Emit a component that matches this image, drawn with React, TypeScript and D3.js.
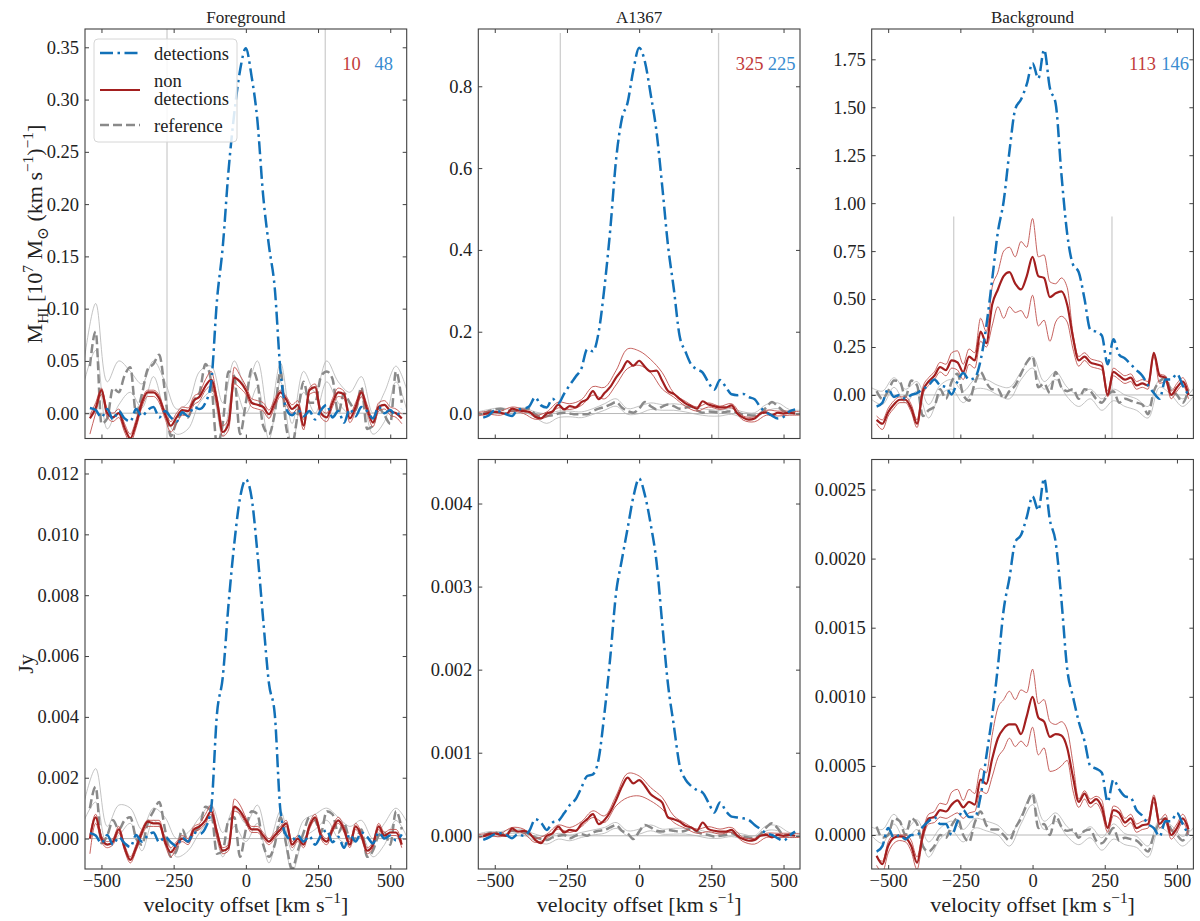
import React, { useEffect, useRef } from 'react';
import * as d3 from 'd3';

// velocity grids (km/s)
const vel = [-540, -520, -500, -480, -460, -440, -420, -400, -380, -360, -340, -320, -300, -280, -260, -240, -220, -200, -180, -160, -140, -120, -100, -80, -60, -40, -20, 0, 20, 40, 60, 80, 100, 120, 140, 160, 180, 200, 220, 240, 260, 280, 300, 320, 340, 360, 380, 400, 420, 440, 460, 480, 500, 520, 540];
const velBand = [-560, -520, -480, -440, -400, -360, -320, -280, -240, -200, -160, -120, -80, -40, 0, 40, 80, 120, 160, 200, 240, 280, 320, 360, 400, 440, 480, 520, 560];

const xTicks = [-500, -250, 0, 250, 500];
const edgeLines = [-273, 275];

// ---------- Foreground, M_HI ----------
const fgMDet = [0.005, 0.003, -0.004, 0.004, -0.006, 0.002, -0.005, -0.008, 0.004, -0.003, 0.003, 0.006, -0.004, 0.002, -0.004, -0.008, 0.001, -0.003, 0.006, 0.004, 0.01, 0.03, 0.108, 0.159, 0.232, 0.287, 0.328, 0.349, 0.322, 0.28, 0.208, 0.16, 0.12, 0.04, 0.004, -0.002, 0.003, -0.003, 0.002, -0.006, 0.003, 0.008, -0.004, 0.002, -0.009, 0.004, -0.003, 0.006, 0.002, -0.005, 0.006, 0.0, 0.003, -0.002, 0.004];
const fgMNon = [-0.005, 0.005, 0.022, 0.0, -0.004, 0.0, -0.014, -0.024, -0.01, 0.01, 0.02, 0.02, 0.014, -0.001, -0.012, -0.004, 0.003, 0.002, 0.012, 0.016, 0.026, 0.032, 0.012, -0.018, -0.01, 0.034, 0.03, 0.022, 0.01, 0.008, 0.006, -0.001, 0.01, 0.02, 0.013, 0.004, 0.008, -0.012, 0.022, 0.025, 0.0, -0.004, 0.01, 0.02, 0.018, -0.005, 0.006, 0.02, 0.004, -0.009, 0.006, 0.008, 0.002, 0.0, -0.005];
const fgMRef = [0.045, 0.078, -0.01, -0.005, 0.024, 0.02, 0.036, 0.044, 0.0, 0.018, 0.042, 0.047, 0.056, 0.02, -0.022, -0.008, 0.0, -0.004, 0.012, 0.02, 0.047, 0.03, -0.03, -0.01, 0.04, 0.035, -0.02, 0.01, 0.042, 0.03, -0.012, -0.02, 0.0, 0.04, -0.014, -0.03, 0.0, 0.03, 0.01, 0.01, 0.035, 0.04, 0.033, 0.0, 0.019, 0.01, 0.003, 0.025, -0.015, -0.012, 0.005, -0.002, -0.01, 0.04, 0.01];
const fgMNonHi = [-0.002, 0.01, 0.024, 0.004, 0.0, 0.004, -0.01, -0.02, -0.006, 0.013, 0.022, 0.022, 0.017, 0.002, -0.008, 0.0, 0.006, 0.005, 0.016, 0.02, 0.032, 0.04, 0.016, -0.012, -0.005, 0.044, 0.036, 0.026, 0.014, 0.012, 0.01, 0.003, 0.014, 0.022, 0.016, 0.008, 0.012, -0.006, 0.024, 0.028, 0.004, 0.0, 0.014, 0.024, 0.021, -0.001, 0.01, 0.022, 0.008, -0.005, 0.01, 0.012, 0.006, 0.004, -0.001];
const fgMNonLo = [-0.02, 0.0, 0.018, -0.004, -0.008, -0.004, -0.018, -0.028, -0.014, 0.006, 0.016, 0.016, 0.01, -0.005, -0.018, -0.01, -0.002, -0.002, 0.008, 0.012, 0.022, 0.026, 0.006, -0.022, -0.016, 0.028, 0.024, 0.018, 0.006, 0.004, 0.002, -0.005, 0.006, 0.016, 0.008, 0.0, 0.004, -0.016, 0.018, 0.02, -0.004, -0.008, 0.006, 0.016, 0.014, -0.009, 0.002, 0.016, 0.0, -0.013, 0.002, 0.004, -0.002, -0.004, -0.01];
const fgMRefHi = [0.05, 0.105, 0.03, 0.05, 0.04, 0.028, 0.05, 0.03, 0.004, 0.01, 0.04, 0.045, 0.01, 0.05, 0.025, 0.05, -0.005, 0.048, -0.01, 0.04, 0.02, 0.05, 0.03, 0.02, 0.035, 0.0, 0.02, 0.045, 0.02];
const fgMRefLo = [0.03, 0.06, -0.015, 0.008, 0.02, 0.005, 0.035, 0.0, -0.02, -0.015, 0.01, 0.02, -0.022, 0.025, 0.0, 0.025, -0.025, 0.03, -0.03, 0.02, 0.0, 0.03, 0.01, 0.0, 0.015, -0.02, -0.008, 0.03, 0.0];
const fgMTicks = [0, 0.05, 0.1, 0.15, 0.2, 0.25, 0.3, 0.35];

// ---------- A1367, M_HI ----------
const clMDet = [-0.01, -0.004, 0.008, 0.004, -0.002, -0.006, 0.01, 0.012, 0.018, 0.04, 0.02, 0.015, 0.036, 0.025, 0.048, 0.07, 0.09, 0.11, 0.157, 0.152, 0.2, 0.31, 0.45, 0.62, 0.72, 0.76, 0.84, 0.894, 0.86, 0.78, 0.69, 0.555, 0.41, 0.305, 0.19, 0.152, 0.12, 0.108, 0.1, 0.076, 0.058, 0.082, 0.065, 0.047, 0.045, 0.048, 0.04, 0.035, 0.015, 0.003, -0.005, -0.012, -0.008, 0.005, 0.01];
const clMNon = [-0.002, 0.002, 0.004, 0.002, -0.001, 0.012, 0.008, 0.006, 0.004, -0.008, -0.012, 0.0, 0.005, 0.022, 0.01, 0.018, 0.015, 0.028, 0.035, 0.055, 0.035, 0.05, 0.065, 0.088, 0.106, 0.128, 0.117, 0.129, 0.114, 0.103, 0.105, 0.08, 0.055, 0.048, 0.036, 0.025, 0.018, 0.012, 0.03, 0.022, 0.018, 0.015, 0.015, 0.02, 0.0, -0.01, -0.015, -0.012, 0.0, 0.003, -0.004, 0.002, 0.0, 0.002, 0.0];
const clMRef = [0.0, 0.006, 0.01, 0.012, 0.008, 0.006, 0.008, 0.01, 0.012, -0.002, -0.008, -0.006, -0.004, 0.0, 0.002, 0.0, -0.002, -0.002, -0.002, 0.006, 0.012, 0.016, 0.022, 0.028, 0.015, 0.006, 0.002, 0.012, 0.028, 0.018, 0.01, 0.017, 0.022, 0.018, 0.012, 0.014, 0.017, 0.008, 0.002, 0.005, 0.004, 0.002, 0.004, 0.006, 0.002, -0.002, -0.004, -0.005, 0.0, 0.015, 0.028, 0.018, 0.006, 0.002, 0.004];
const clMNonHi = [0.002, 0.006, 0.006, 0.016, 0.01, -0.004, 0.004, 0.028, 0.024, 0.034, 0.066, 0.064, 0.105, 0.158, 0.153, 0.132, 0.1, 0.05, 0.03, 0.016, 0.026, 0.018, 0.024, -0.006, -0.008, 0.008, 0.006, 0.006, 0.004];
const clMNonLo = [-0.006, -0.002, -0.004, 0.006, 0.0, -0.014, -0.008, 0.014, 0.01, 0.02, 0.045, 0.036, 0.07, 0.11, 0.118, 0.1, 0.06, 0.04, 0.018, 0.006, 0.016, 0.01, 0.014, -0.016, -0.02, -0.004, -0.006, -0.004, -0.004];
const clMRefHi = [0.004, 0.01, 0.014, 0.01, 0.014, 0.004, 0.0, 0.006, 0.006, 0.004, 0.012, 0.024, 0.036, 0.012, 0.018, 0.026, 0.022, 0.024, 0.02, 0.014, 0.01, 0.008, 0.012, 0.004, 0.002, 0.022, 0.026, 0.01, 0.008];
const clMRefLo = [-0.004, 0.0, 0.004, 0.0, 0.004, -0.01, -0.024, -0.01, -0.008, -0.01, -0.002, 0.008, 0.018, -0.002, 0.0, 0.01, 0.008, 0.008, 0.004, -0.002, -0.006, -0.006, -0.002, -0.01, -0.012, 0.006, 0.012, -0.002, -0.002];
const clMTicks = [0, 0.2, 0.4, 0.6, 0.8];

// ---------- Background, M_HI ----------
const bgMDet = [-0.06, -0.04, 0.03, -0.01, 0.0, -0.02, 0.0, 0.01, 0.03, 0.05, 0.08, 0.05, 0.04, 0.003, 0.07, 0.115, 0.08, 0.09, 0.18, 0.36, 0.6, 0.85, 1.01, 1.27, 1.49, 1.54, 1.62, 1.73, 1.65, 1.8, 1.6, 1.52, 1.15, 0.84, 0.68, 0.64, 0.5, 0.34, 0.33, 0.31, 0.16, 0.29, 0.21, 0.19, 0.16, 0.13, 0.1, 0.05, 0.01, -0.02, 0.08, 0.08, 0.11, 0.05, 0.0];
const bgMNon = [-0.13, -0.15, -0.09, -0.05, -0.025, -0.025, -0.07, -0.15, 0.02, 0.07, 0.1, 0.145, 0.13, 0.18, 0.17, 0.12, 0.2, 0.18, 0.33, 0.27, 0.47, 0.55, 0.62, 0.64, 0.58, 0.55, 0.62, 0.72, 0.62, 0.61, 0.51, 0.53, 0.54, 0.47, 0.3, 0.18, 0.2, 0.17, 0.16, 0.15, 0.0, 0.12, 0.1, 0.08, 0.09, 0.05, 0.06, 0.05, 0.22, 0.1, 0.09, 0.0, 0.04, 0.07, 0.0];
const bgMRef = [0.02, -0.02, 0.02, 0.075, 0.07, -0.01, 0.075, 0.05, -0.11, -0.08, -0.06, 0.03, -0.02, 0.07, 0.11, 0.0, -0.03, 0.06, 0.12, 0.065, 0.03, 0.03, -0.02, 0.02, 0.05, 0.11, 0.17, 0.2, 0.04, 0.06, 0.01, 0.12, 0.04, 0.02, 0.03, -0.02, 0.03, 0.02, -0.02, -0.04, 0.0, 0.02, -0.04, -0.02, -0.03, -0.04, -0.05, -0.1, 0.02, 0.07, 0.09, 0.02, 0.0, -0.04, 0.03];
const bgMNonHi = [-0.11, -0.13, -0.07, -0.03, -0.01, -0.01, -0.05, -0.13, 0.04, 0.09, 0.12, 0.17, 0.16, 0.22, 0.23, 0.16, 0.24, 0.22, 0.4, 0.33, 0.56, 0.64, 0.75, 0.77, 0.72, 0.8, 0.77, 0.92, 0.72, 0.73, 0.59, 0.58, 0.61, 0.56, 0.32, 0.2, 0.22, 0.19, 0.18, 0.17, 0.02, 0.14, 0.12, 0.1, 0.11, 0.07, 0.08, 0.07, 0.21, 0.11, 0.1, 0.02, 0.06, 0.09, 0.03];
const bgMNonLo = [-0.15, -0.18, -0.11, -0.07, -0.04, -0.04, -0.09, -0.17, 0.0, 0.05, 0.08, 0.12, 0.1, 0.14, 0.13, 0.08, 0.16, 0.14, 0.28, 0.25, 0.36, 0.46, 0.4, 0.46, 0.43, 0.44, 0.4, 0.52, 0.36, 0.39, 0.28, 0.38, 0.41, 0.38, 0.24, 0.15, 0.18, 0.15, 0.14, 0.13, -0.01, 0.1, 0.08, 0.06, 0.07, 0.03, 0.04, 0.03, 0.2, 0.06, 0.07, -0.02, 0.02, 0.05, -0.02];
const bgMRefHi = [0.04, 0.02, 0.09, 0.03, 0.07, -0.05, 0.05, 0.08, 0.02, 0.08, 0.08, 0.05, 0.04, 0.12, 0.2, 0.07, 0.12, 0.04, 0.0, 0.03, -0.02, 0.03, 0.0, -0.02, -0.06, 0.08, 0.04, -0.02, 0.04];
const bgMRefLo = [-0.02, -0.05, 0.04, -0.04, 0.02, -0.12, 0.0, 0.03, -0.04, 0.03, 0.03, 0.0, -0.02, 0.08, 0.14, 0.03, 0.08, -0.01, -0.06, -0.02, -0.08, -0.03, -0.06, -0.08, -0.12, 0.04, 0.0, -0.06, 0.0];
const bgMTicks = [0, 0.25, 0.5, 0.75, 1.0, 1.25, 1.5, 1.75];

// ---------- Foreground, Jy ----------
const fgJDet = [0.00018, 0.0001, -0.00015, 0.00012, -0.0002, 0.00005, -0.00015, -0.00028, 0.00012, -0.0001, 0.0001, 0.0002, -0.00012, 0.00006, -0.00012, -0.00025, 0.00003, -0.0001, 0.0002, 0.00015, 0.00035, 0.001, 0.0041, 0.0053, 0.0077, 0.0097, 0.0112, 0.0118, 0.0112, 0.0094, 0.0072, 0.0051, 0.0041, 0.0009, 0.0001, -0.00005, 0.0001, -0.0001, 0.00008, -0.0002, 0.0001, 0.00028, -0.00012, 0.00006, -0.0003, 0.00014, -0.0001, 0.0002, 0.00006, -0.00016, 0.0002, 0.0, 0.0001, -0.00006, 0.00014];
const fgJNon = [0.0, 0.0007, 0.0, -0.0002, -0.0001, 0.0003, -0.0003, -0.0007, -0.0003, 0.0002, 0.00056, 0.0005, 0.0005, -0.0001, -0.00045, -0.0002, 0.0, -0.0001, 0.0003, 0.0004, 0.0006, 0.0009, 0.0002, -0.0004, -0.0003, 0.00105, 0.0009, 0.0006, 0.0003, 0.0003, 0.0001, -0.0001, 0.0001, 0.0003, 0.0005, -0.0002, 0.0, -0.0002, 0.0004, 0.0007, 0.0001, -0.0001, 0.0003, 0.0006, 0.0003, -0.0002, 0.0004, 0.0001, -0.0004, -0.0002, 0.0004, 0.0001, 0.0002, 0.0002, -0.0002];
const fgJRef = [0.001, 0.0017, -0.00015, 0.0001, 0.0006, 0.0003, 0.0006, 0.0007, 0.0, -0.0002, 0.0005, 0.0009, 0.0012, 0.0003, -0.0006, -0.0004, 0.0003, -0.0001, 0.0002, 0.0004, 0.00105, 0.0009, -0.0005, -0.0004, 0.0006, 0.0007, -0.0006, 0.0003, 0.0009, 0.0008, -0.0002, -0.0006, -0.0002, 0.0007, -0.0002, -0.001, -0.0004, 0.0002, 0.0007, 0.0006, 0.0002, 0.0009, 0.0008, 0.0002, 0.0005, 0.0, 0.0, 0.0003, -0.0006, -0.0004, 0.0001, 0.0002, -0.0002, 0.0009, 0.0003];
const fgJNonHi = [0.0001, 0.0008, 0.0001, -0.0001, 0.0, 0.0004, -0.0002, -0.0006, -0.0002, 0.0003, 0.0006, 0.0006, 0.0006, 0.0, -0.0003, -0.0001, 0.0001, 0.0, 0.0004, 0.0005, 0.0008, 0.0011, 0.0003, -0.0003, -0.0002, 0.0013, 0.0011, 0.0007, 0.0004, 0.0004, 0.0002, 0.0, 0.0002, 0.0004, 0.0006, -0.0001, 0.0001, -0.0001, 0.0005, 0.0008, 0.0002, 0.0, 0.0004, 0.0007, 0.0004, -0.0001, 0.0005, 0.0002, -0.0003, -0.0001, 0.0005, 0.0002, 0.0003, 0.0003, -0.0001];
const fgJNonLo = [-0.0005, 0.0005, -0.0001, -0.0003, -0.0002, 0.0002, -0.0004, -0.0008, -0.0004, 0.0001, 0.0004, 0.0004, 0.0004, -0.0002, -0.0006, -0.0003, -0.0001, -0.0002, 0.0002, 0.0003, 0.0005, 0.0008, 0.0, -0.0005, -0.0004, 0.0009, 0.0008, 0.0005, 0.0002, 0.0002, 0.0, -0.0002, 0.0, 0.0002, 0.0004, -0.0003, -0.0001, -0.0003, 0.0003, 0.0006, 0.0, -0.0002, 0.0002, 0.0005, 0.0002, -0.0003, 0.0003, 0.0, -0.0005, -0.0003, 0.0003, 0.0, 0.0001, 0.0001, -0.0003];
const fgJRefHi = [0.0012, 0.0023, 0.0004, 0.0011, 0.001, 0.0003, 0.001, 0.0007, 0.0, 0.0002, 0.0007, 0.0011, 0.0002, 0.001, 0.0005, 0.0011, -0.0001, 0.0009, -0.0004, 0.0006, 0.0008, 0.001, 0.0007, 0.0004, 0.0006, 0.0, 0.0005, 0.001, 0.0005];
const fgJRefLo = [0.0006, 0.0012, -0.0002, 0.0001, 0.0005, -0.0004, 0.0006, 0.0001, -0.0006, -0.0004, 0.0002, 0.0006, -0.0006, 0.0004, -0.0001, 0.0005, -0.0008, 0.0005, -0.0011, 0.0, 0.0003, 0.0006, 0.0, -0.0002, 0.0001, -0.0006, -0.0002, 0.0006, 0.0];
const fgJTicks = [0, 0.002, 0.004, 0.006, 0.008, 0.01, 0.012];

// ---------- A1367, Jy ----------
const clJDet = [-0.00005, -0.00002, 0.00002, 0.00003, 0.00001, -0.00003, 0.00002, 0.0, 0.00006, 0.0002, 0.00016, 0.00007, 0.00016, 0.00018, 0.00027, 0.00037, 0.00044, 0.00058, 0.00072, 0.00074, 0.00093, 0.00148, 0.00215, 0.00292, 0.00332, 0.0037, 0.00408, 0.0043, 0.0041, 0.00375, 0.0033, 0.00255, 0.00182, 0.00133, 0.00085, 0.00068, 0.0006, 0.00055, 0.00052, 0.0004, 0.00028, 0.0004, 0.0003, 0.00023, 0.00022, 0.00021, 0.00019, 0.00013, 0.00008, 0.00003, 0.00001, -0.00003, -0.00006, 0.0, 0.00005];
const clJNon = [-0.00001, 0.00002, 0.00003, 0.00001, 0.0, 0.00009, 0.00005, 0.00006, 0.00003, -0.00005, -0.00009, 0.0, 0.00003, 0.00011, 0.00004, 0.00007, 0.00006, 0.00014, 0.0002, 0.00026, 0.00014, 0.00019, 0.00029, 0.00043, 0.00059, 0.0007, 0.00063, 0.00067, 0.0006, 0.0005, 0.00045, 0.0004, 0.00022, 0.0002, 0.00017, 0.00012, 0.0001, 0.00006, 0.00016, 0.00008, 0.00006, 0.00005, 0.00005, 0.00007, 0.0, -0.00004, -0.00006, -0.00005, 0.0, 0.00001, -0.00002, 0.00001, 0.0, 0.00001, 0.0];
const clJRef = [0.0, 0.00003, 0.00004, 0.00002, 0.00003, 0.00006, 0.00005, 0.00004, 0.00002, -0.00002, -0.00004, -0.00005, -0.00002, 0.0, 0.00001, -0.00003, 0.0, 0.00002, 0.0, 0.00004, 0.00006, 0.00007, 0.0001, 0.00013, 0.00006, 0.00003, -0.00004, 0.00005, 0.00013, 0.0001, 0.00006, 0.00005, 0.00007, 0.00006, 0.00005, 0.00006, 0.00009, 0.00005, 0.00002, 0.00001, -0.00001, 0.0, 0.00001, 0.00003, 0.0, -0.00001, -0.00002, -0.00003, 0.00002, 0.0001, 0.00015, 0.00009, 0.00001, 0.00001, 0.00001];
const clJNonHi = [0.00001, 0.00003, 0.00003, 0.0001, 0.00008, -0.00003, 0.00002, 0.00013, 0.0001, 0.00017, 0.0003, 0.00024, 0.00048, 0.00075, 0.00072, 0.00058, 0.00046, 0.00024, 0.00015, 0.00008, 0.00011, 0.00008, 0.0001, -0.00002, -0.00003, 0.00003, 0.00003, 0.00003, 0.00002];
const clJNonLo = [-0.00003, 0.0, -0.00001, 0.00006, 0.00003, -0.00008, -0.00003, 0.00008, 0.00004, 0.00011, 0.00022, 0.00016, 0.00036, 0.00046, 0.00048, 0.00042, 0.00032, 0.00016, 0.00009, 0.00003, 0.00005, 0.00002, 0.00004, -0.00007, -0.0001, -0.00002, -0.00002, -0.00002, -0.00002];
const clJRefHi = [0.00002, 0.00005, 0.00005, 0.00008, 0.00007, 0.00002, -0.00001, 0.00003, 0.00001, 0.00004, 0.00007, 0.0001, 0.00016, 0.00006, 0.00008, 0.00013, 0.00008, 0.00009, 0.00009, 0.00008, 0.00004, 0.00003, 0.00005, 0.00002, 0.0, 0.00012, 0.00012, 0.00004, 0.00003];
const clJRefLo = [-0.00002, 0.0, -0.00001, 0.00003, 0.00001, -0.00006, -0.0001, -0.00004, -0.00006, -0.00002, 0.00001, 0.00003, 0.00009, 0.0, 0.00002, 0.00006, 0.00002, 0.00002, 0.00002, 0.0, -0.00003, -0.00003, -0.00001, -0.00004, -0.00006, 0.00006, 0.00006, -0.00002, -0.00001];
const clJTicks = [0, 0.001, 0.002, 0.003, 0.004];

// ---------- Background, Jy ----------
const bgJDet = [-0.00012, -0.00008, 0.00005, -0.00002, 0.0, -0.00003, 0.0, 0.0, 0.00006, 0.0001, 0.00013, 0.00008, 0.00008, 0.0, 0.0001, 0.00018, 0.00013, 0.00013, 0.00028, 0.00057, 0.00086, 0.00122, 0.00163, 0.00186, 0.00212, 0.00217, 0.0023, 0.00245, 0.00235, 0.00258, 0.00228, 0.00212, 0.0017, 0.0012, 0.001, 0.00082, 0.00068, 0.0005, 0.00048, 0.00045, 0.00024, 0.0004, 0.00033, 0.00028, 0.00027, 0.00018, 0.00014, 0.00008, 0.00005, -0.00001, 0.0001, 0.0001, 0.00016, 0.00008, 0.0];
const bgJNon = [-0.00015, -0.00021, -0.00008, -0.00002, -0.00001, -0.00002, -0.00008, -0.0002, 0.0, 0.00012, 0.00013, 0.00018, 0.00017, 0.00022, 0.00025, 0.0002, 0.00024, 0.00022, 0.0004, 0.00037, 0.00055, 0.0007, 0.00077, 0.0008, 0.0008, 0.00073, 0.00086, 0.001, 0.00085, 0.00082, 0.00071, 0.00073, 0.00072, 0.00063, 0.00042, 0.00024, 0.0003, 0.00023, 0.00026, 0.0002, 0.00005, 0.00018, 0.00016, 0.00009, 0.00012, 0.00005, 0.00007, 0.00008, 0.00027, 0.00008, 0.00012, 0.0, 0.00005, 0.00012, 0.00004];
const bgJRef = [0.00006, -0.00002, 0.0, 0.00012, 0.0001, 0.0, 0.00012, 0.00008, -0.00008, -0.00012, -0.00008, 0.0, -0.00002, 0.00007, 0.00012, 0.0, -0.00005, 0.00009, 0.00017, 0.00007, 0.00004, 0.00004, 0.0, -0.00004, 0.00005, 0.00012, 0.00022, 0.0003, 0.00005, 0.00008, 0.0, 0.00014, 0.00006, 0.00003, 0.00004, -0.00002, 0.00003, 0.00004, -0.00004, -0.00006, -0.00001, 0.00005, -0.00004, -0.00002, -0.00003, -0.00004, -0.00008, -0.00012, 0.0, 0.00009, 0.00012, 0.00004, 0.0, -0.00004, 0.00004];
const bgJNonHi = [-0.00016, -0.00019, -0.00005, 0.0, 0.0, 0.0, -0.00004, -0.00016, 0.00003, 0.00015, 0.00017, 0.00023, 0.00022, 0.00031, 0.00033, 0.00025, 0.00033, 0.0003, 0.00048, 0.00045, 0.00072, 0.00092, 0.00098, 0.00104, 0.00098, 0.00105, 0.00103, 0.0012, 0.00095, 0.00098, 0.00082, 0.0008, 0.00082, 0.00076, 0.00052, 0.00026, 0.00032, 0.00026, 0.00028, 0.00025, 0.00006, 0.00021, 0.00019, 0.00012, 0.00015, 0.00008, 0.0001, 0.00011, 0.00029, 0.00011, 0.00015, 0.00003, 0.00008, 0.00015, 0.00006];
const bgJNonLo = [-0.00022, -0.00027, -0.00013, -0.00006, -0.00004, -0.00005, -0.00012, -0.00025, -0.00003, 0.00008, 0.00009, 0.00013, 0.00012, 0.00014, 0.00016, 0.00012, 0.00016, 0.00017, 0.00032, 0.0003, 0.00042, 0.00056, 0.00062, 0.0007, 0.00064, 0.00068, 0.00064, 0.00078, 0.00058, 0.00063, 0.00046, 0.00047, 0.0005, 0.00054, 0.00032, 0.0002, 0.00026, 0.0002, 0.00023, 0.00016, 0.00002, 0.00014, 0.00012, 0.00006, 0.00009, 0.00002, 0.00004, 0.00005, 0.00024, 0.00005, 0.00009, -0.00003, 0.00002, 0.00009, 0.0];
const bgJRefHi = [0.00006, 0.00004, 0.00015, 0.00004, 0.00011, -0.00005, 0.00005, 0.0001, 0.00004, 0.00012, 0.0001, 0.00007, 0.0, 0.00014, 0.0003, 0.0001, 0.00016, 0.00006, 0.0, 0.00006, -0.00002, 0.00008, 0.00001, -0.00001, -0.00008, 0.00011, 0.00007, -0.00001, 0.00006];
const bgJRefLo = [0.0, -0.00006, 0.00008, -0.00004, 0.00004, -0.00016, -0.00003, 0.00003, -0.00005, 0.00005, 0.00003, 0.0, -0.00008, 0.00008, 0.00022, 0.00004, 0.0001, -0.00001, -0.00007, -0.00002, -0.00011, -0.00003, -0.00007, -0.00009, -0.00016, 0.00005, 0.0, -0.00008, 0.0];
const bgJTicks = [0, 0.0005, 0.001, 0.0015, 0.002, 0.0025];

const FONT = '"Liberation Serif", "DejaVu Serif", serif';
const BLUE = '#1271b8';
const RED = '#a31f1f';
const RED_THIN = '#c0504d';
const GREY = '#8a8a8a';
const GREY_THIN = '#b4b4b4';
const AXIS = '#404040';
const DASHDOT = '13,4.5,2.5,4.5';
const DASH = '9,4';

const W = 321.7;
const H = 409.5;
const colLeft = [85, 478.3, 871.7];
const rowTop = [29, 459.5];

const panels = [
  { col: 0, row: 0, title: 'Foreground', yDomain: [-0.0242, 0.3675], ticks: fgMTicks, fmt: '.2f', counts: ['10', '48'], nonGrid: vel,
    det: fgMDet, non: fgMNon, ref: fgMRef, nonHi: fgMNonHi, nonLo: fgMNonLo, refHi: fgMRefHi, refLo: fgMRefLo },
  { col: 1, row: 0, title: 'A1367', yDomain: [-0.061, 0.94], ticks: clMTicks, fmt: '.1f', counts: ['325', '225'], nonGrid: velBand,
    det: clMDet, non: clMNon, ref: clMRef, nonHi: clMNonHi, nonLo: clMNonLo, refHi: clMRefHi, refLo: clMRefLo },
  { col: 2, row: 0, title: 'Background', yDomain: [-0.227, 1.908], ticks: bgMTicks, fmt: '.2f', counts: ['113', '146'], nonGrid: vel,
    det: bgMDet, non: bgMNon, ref: bgMRef, nonHi: bgMNonHi, nonLo: bgMNonLo, refHi: bgMRefHi, refLo: bgMRefLo },
  { col: 0, row: 1, yDomain: [-0.001, 0.01246], ticks: fgJTicks, fmt: '.3f', nonGrid: vel,
    det: fgJDet, non: fgJNon, ref: fgJRef, nonHi: fgJNonHi, nonLo: fgJNonLo, refHi: fgJRefHi, refLo: fgJRefLo },
  { col: 1, row: 1, yDomain: [-0.0004, 0.00453], ticks: clJTicks, fmt: '.3f', nonGrid: velBand,
    det: clJDet, non: clJNon, ref: clJRef, nonHi: clJNonHi, nonLo: clJNonLo, refHi: clJRefHi, refLo: clJRefLo },
  { col: 2, row: 1, yDomain: [-0.000246, 0.002717], ticks: bgJTicks, fmt: '.4f', nonGrid: vel,
    det: bgJDet, non: bgJNon, ref: bgJRef, nonHi: bgJNonHi, nonLo: bgJNonLo, refHi: bgJRefHi, refLo: bgJRefLo },
];

// append text made of normal / superscript / subscript pieces
const richText = (sel, parts, size) => {
  let shift = 0;
  parts.forEach(([str, kind]) => {
    const target = kind === 'sup' ? -0.42 * size : kind === 'sub' ? 0.28 * size : 0;
    sel.append('tspan')
      .attr('dy', target - shift)
      .attr('font-size', kind === 'n' ? size : size * 0.7)
      .text(str);
    shift = target;
  });
};

const styleAxis = (a) => {
  a.select('.domain').remove();
  a.selectAll('line').attr('stroke', AXIS).attr('stroke-width', 1);
  a.selectAll('text').attr('font-family', FONT).attr('font-size', 18.5).attr('fill', '#222');
};

const App = () => {
  const svgRef = useRef(null);

  useEffect(() => {
    const svg = d3.select(svgRef.current);
    svg.selectAll('*').remove();

    const x = d3.scaleLinear().domain([-557, 557]).range([0, W]);

    panels.forEach((p, i) => {
      const y = d3.scaleLinear().domain(p.yDomain).range([H, 0]);
      const g = svg.append('g').attr('transform', `translate(${colLeft[p.col]},${rowTop[p.row]})`);

      g.append('clipPath').attr('id', `clip-${i}`).append('rect').attr('width', W).attr('height', H);
      const plot = g.append('g').attr('clip-path', `url(#clip-${i})`);

      plot.append('line')
        .attr('x1', 0).attr('x2', W).attr('y1', y(0)).attr('y2', y(0))
        .attr('stroke', '#b8b8b8').attr('stroke-width', 1);

      if (p.row === 0) {
        edgeLines.forEach((v) => {
          plot.append('line')
            .attr('x1', x(v)).attr('x2', x(v)).attr('y1', H).attr('y2', y(0.93))
            .attr('stroke', '#cfcfcf').attr('stroke-width', 1.3);
        });
      }

      const lineOn = (grid, curve) => d3.line().x((_, k) => x(grid[k])).y((d) => y(d)).curve(curve);
      const mainLine = lineOn(vel, d3.curveMonotoneX);
      const refBand = lineOn(velBand, d3.curveCatmullRom);
      const nonBand = p.nonGrid === vel ? lineOn(vel, d3.curveMonotoneX) : lineOn(velBand, d3.curveCatmullRom);

      const draw = (d, gen, color, width, dash) => {
        plot.append('path')
          .attr('d', gen(d))
          .attr('fill', 'none')
          .attr('stroke', color)
          .attr('stroke-width', width)
          .attr('stroke-dasharray', dash || null)
          .attr('stroke-linejoin', 'round');
      };

      draw(p.refHi, refBand, GREY_THIN, 0.8);
      draw(p.refLo, refBand, GREY_THIN, 0.8);
      draw(p.ref, mainLine, GREY, 2.5, DASH);
      draw(p.nonHi, nonBand, RED_THIN, 0.9);
      draw(p.nonLo, nonBand, RED_THIN, 0.9);
      draw(p.non, mainLine, RED, 2.2);
      draw(p.det, mainLine, BLUE, 2.5, DASHDOT);

      // axes, ticks pointing inward on all four sides
      const fmt = d3.format(p.fmt);
      styleAxis(g.append('g').call(d3.axisLeft(y).tickValues(p.ticks).tickSize(-4).tickPadding(6).tickFormat((d) => fmt(d))));
      styleAxis(g.append('g').attr('transform', `translate(${W},0)`)
        .call(d3.axisRight(y).tickValues(p.ticks).tickSize(-4).tickFormat(() => '')));
      styleAxis(g.append('g').call(d3.axisTop(x).tickValues(xTicks).tickSize(-4).tickFormat(() => '')));
      styleAxis(g.append('g').attr('transform', `translate(0,${H})`)
        .call(d3.axisBottom(x).tickValues(xTicks).tickSize(-4).tickPadding(5)
          .tickFormat(p.row === 1 ? d3.format('d') : () => '')));

      g.append('rect').attr('width', W).attr('height', H)
        .attr('fill', 'none').attr('stroke', AXIS).attr('stroke-width', 1.1);

      if (p.row === 0) {
        g.append('text')
          .attr('x', W / 2).attr('y', -6)
          .attr('text-anchor', 'middle')
          .attr('font-family', FONT).attr('font-size', 17).attr('fill', '#222')
          .text(p.title);
        g.append('text')
          .attr('x', W * 0.8).attr('y', 41)
          .attr('font-family', FONT).attr('font-size', 18.5).attr('fill', '#c23b3b')
          .text(p.counts[0]);
        g.append('text')
          .attr('x', W * 0.9).attr('y', 41)
          .attr('font-family', FONT).attr('font-size', 18.5).attr('fill', '#3a8cd0')
          .text(p.counts[1]);
      } else {
        const xl = g.append('text')
          .attr('x', W / 2).attr('y', H + 43)
          .attr('text-anchor', 'middle')
          .attr('font-family', FONT).attr('font-size', 22).attr('fill', '#222');
        richText(xl, [['velocity offset [km s', 'n'], ['\u22121', 'sup'], [']', 'n']], 22);
      }

      // legend, first panel only
      if (i === 0) {
        const lg = g.append('g').attr('transform', 'translate(9,10)');
        lg.append('rect').attr('width', 143).attr('height', 103).attr('rx', 4)
          .attr('fill', 'white').attr('fill-opacity', 0.85)
          .attr('stroke', '#d6d6d6').attr('stroke-width', 1);
        const items = [
          { y: 14, color: BLUE, w: 2.5, dash: DASHDOT, lines: [['detections', 21]] },
          { y: 51, color: RED, w: 2.2, dash: null, lines: [['non', 48], ['detections', 66]] },
          { y: 86, color: GREY, w: 2.5, dash: DASH, lines: [['reference', 93]] },
        ];
        items.forEach((it) => {
          lg.append('line')
            .attr('x1', 6).attr('x2', 46).attr('y1', it.y).attr('y2', it.y)
            .attr('stroke', it.color).attr('stroke-width', it.w)
            .attr('stroke-dasharray', it.dash);
          it.lines.forEach(([t, ty]) => {
            lg.append('text')
              .attr('x', 60).attr('y', ty)
              .attr('font-family', FONT).attr('font-size', 18.5).attr('fill', '#222')
              .text(t);
          });
        });
      }
    });

    // shared y labels
    const yl1 = svg.append('text')
      .attr('transform', 'translate(42,234) rotate(-90)')
      .attr('text-anchor', 'middle')
      .attr('font-family', FONT).attr('font-size', 22).attr('fill', '#222');
    richText(yl1, [
      ['M', 'n'], ['HI', 'sub'], [' [10', 'n'], ['7', 'sup'], [' M', 'n'], ['\u2299', 'sub'],
      [' (km s', 'n'], ['\u22121', 'sup'], [')', 'n'], ['\u22121', 'sup'], [']', 'n'],
    ], 22);

    svg.append('text')
      .attr('transform', 'translate(33,664) rotate(-90)')
      .attr('text-anchor', 'middle')
      .attr('font-family', FONT).attr('font-size', 22).attr('fill', '#222')
      .text('Jy');
  }, []);

  return (
    <svg
      ref={svgRef}
      width={1200}
      height={921}
      style={{ position: 'absolute', left: 0, top: 0, background: '#fff' }}
    />
  );
};

export default App;
